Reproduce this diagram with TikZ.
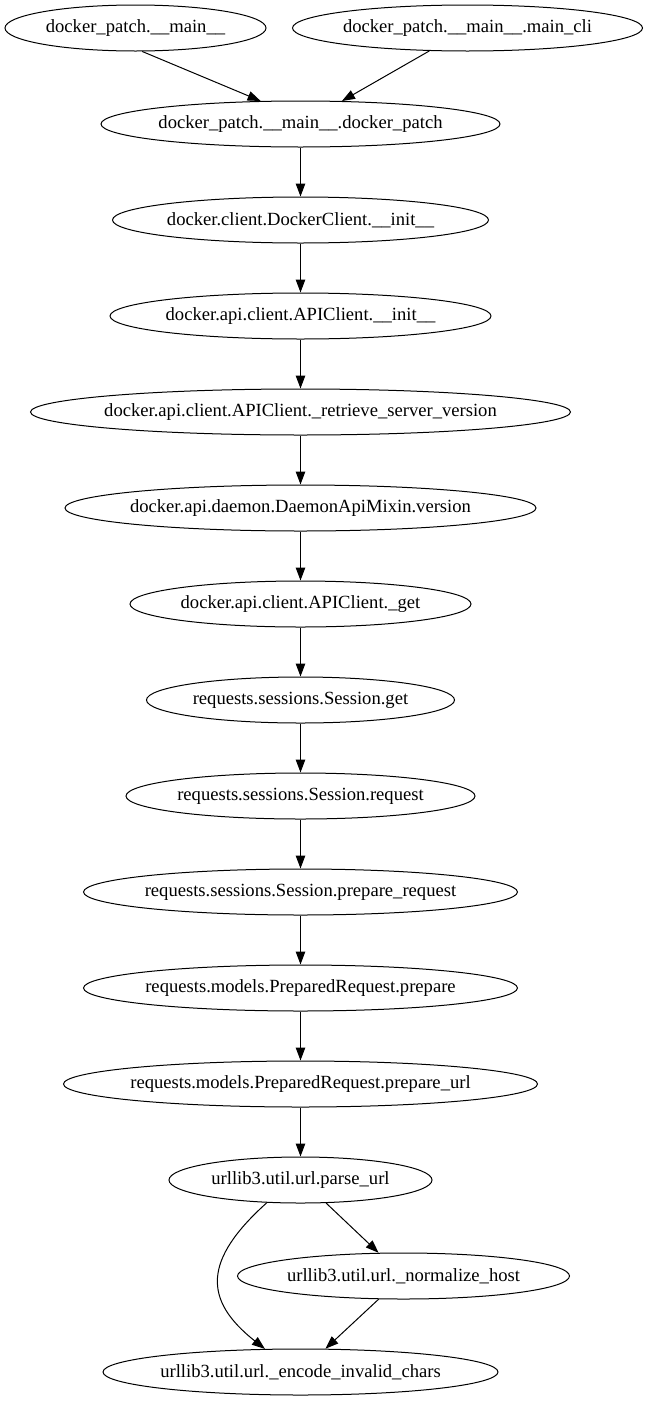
\documentclass[tikz,border=0pt]{standalone}
\usepackage{fontspec}
\setmainfont{Liberation Serif}
\usetikzlibrary{shapes.geometric,arrows.meta}
\begin{document}
\begin{tikzpicture}[x=1pt,y=-1pt,
  fn/.style={draw, ellipse, inner xsep=-60pt, inner ysep=0pt, minimum height=46pt, line width=1pt,
             font=\fontsize{18.6pt}{21pt}\selectfont},
  edge/.style={draw, line width=1pt, -{Triangle[length=13pt,width=9.5pt]}}]
\useasboundingbox (0,0) rectangle (650,1403);

\node[fn, minimum width=261pt] (main)   at (135.5,28) {docker\_patch.\_\_main\_\_};
\node[fn, minimum width=350pt] (cli)    at (467.5,28) {docker\_patch.\_\_main\_\_.main\_cli};
\node[fn, minimum width=399pt] (dp)     at (300.5,124) {docker\_patch.\_\_main\_\_.docker\_patch};
\node[fn, minimum width=376pt] (dcinit) at (300.5,220) {docker.client.DockerClient.\_\_init\_\_};
\node[fn, minimum width=381pt] (apinit) at (300.5,316) {docker.api.client.APIClient.\_\_init\_\_};
\node[fn, minimum width=540pt] (rsv)    at (300.5,412) {docker.api.client.APIClient.\_retrieve\_server\_version};
\node[fn, minimum width=471pt] (ver)    at (300.5,508) {docker.api.daemon.DaemonApiMixin.version};
\node[fn, minimum width=341pt] (get)    at (300.5,604) {docker.api.client.APIClient.\_get};
\node[fn, minimum width=308pt] (sget)   at (300.5,700) {requests.sessions.Session.get};
\node[fn, minimum width=349pt] (sreq)   at (300.5,796) {requests.sessions.Session.request};
\node[fn, minimum width=434pt] (sprep)  at (300.5,892) {requests.sessions.Session.prepare\_request};
\node[fn, minimum width=434pt] (prep)   at (300.5,988) {requests.models.PreparedRequest.prepare};
\node[fn, minimum width=474pt] (purl)   at (300.5,1084) {requests.models.PreparedRequest.prepare\_url};
\node[fn, minimum width=263pt] (parse)  at (300.5,1180) {urllib3.util.url.parse\_url};
\node[fn, minimum width=332pt] (norm)   at (403.5,1276) {urllib3.util.url.\_normalize\_host};
\node[fn, minimum width=395pt] (enc)    at (300.5,1372) {urllib3.util.url.\_encode\_invalid\_chars};

\path[edge] (main.286) -- (dp.150);
\path[edge] (cli.211) -- (dp.29);
\path[edge] (dp) -- (dcinit);
\path[edge] (dcinit) -- (apinit);
\path[edge] (apinit) -- (rsv);
\path[edge] (rsv) -- (ver);
\path[edge] (ver) -- (get);
\path[edge] (get) -- (sget);
\path[edge] (sget) -- (sreq);
\path[edge] (sreq) -- (sprep);
\path[edge] (sprep) -- (prep);
\path[edge] (prep) -- (purl);
\path[edge] (purl) -- (parse);
\path[edge] (parse.318) -- (norm.137);
\path[edge] (parse.214) .. controls (203,1260) and (203,1300) .. (enc.147);
\path[edge] (norm.223) -- (enc.43);
\end{tikzpicture}
\end{document}
